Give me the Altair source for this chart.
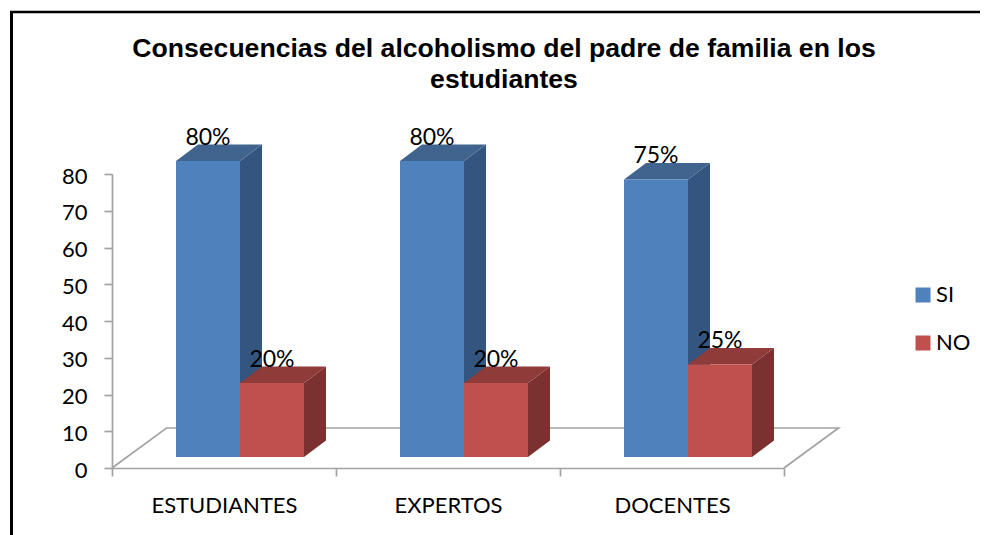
import altair as alt
import pandas as pd

categories = ["ESTUDIANTES", "EXPERTOS", "DOCENTES"]
si_values = [80, 80, 75]
no_values = [20, 20, 25]
series_names = ["SI", "NO"]
title_lines = ["Consecuencias del alcoholismo del padre de familia en los", "estudiantes"]
ticks_y = [0, 10, 20, 30, 40, 50, 60, 70, 80]

BLUE, BLUE_SIDE, BLUE_TOP = "#4F81BD", "#34557F", "#41648F"
RED, RED_SIDE, RED_TOP = "#C0504D", "#7B312F", "#8F3B39"
GRAY = "#A3A3A3"
SANS = "Lato"

W, H = 672, 294          # value axis: 80 at top, 0 at bottom
UNIT = 3.7               # pixels per value on the projected front plane
GAP = 2 / 7              # left gap and bar width, in category units
DEPTH_X = 22 / 224       # oblique depth of a bar
DEPTH_Y = 16.5 / UNIT
FLOOR_DX = 54.5 / 224    # oblique depth of the floor
FLOOR_DY = 40 / UNIT
P_LOW = -11 / UNIT
P_HIGH = 283 / UNIT

PX = alt.Scale(domain=[0, 3], nice=False, zero=False)
PY = alt.Scale(domain=[P_LOW, P_HIGH], nice=False, zero=False)

fronts, sides, tops, labels = [], [], [], []
for i, cat in enumerate(categories):
    for s, (name, val) in enumerate(zip(series_names, (si_values[i], no_values[i]))):
        x0 = i + GAP * (s + 1)
        x1 = x0 + GAP
        bid = f"{cat}-{name}"
        fronts.append(dict(series=name, x=x0, x2=x1, y=0, y2=val))
        sides += [
            dict(s=name, bar=bid, x=x1, y=0, y2=val),
            dict(s=name, bar=bid, x=x1 + DEPTH_X, y=DEPTH_Y, y2=val + DEPTH_Y),
        ]
        tops += [
            dict(s=name, bar=bid, x=x0, y=val, y2=val),
            dict(s=name, bar=bid, x=x0 + DEPTH_X, y=val, y2=val + DEPTH_Y),
            dict(s=name, bar=bid, x=x1, y=val, y2=val + DEPTH_Y),
            dict(s=name, bar=bid, x=x1 + DEPTH_X, y=val + DEPTH_Y, y2=val + DEPTH_Y),
        ]
        labels.append(dict(x=(x0 + x1) / 2, y=val + DEPTH_Y, text=f"{val}%"))

fronts, sides, tops, labels = map(pd.DataFrame, (fronts, sides, tops, labels))
floor = pd.DataFrame([
    dict(o=0, x=0, y=P_LOW),
    dict(o=1, x=FLOOR_DX, y=P_LOW + FLOOR_DY),
    dict(o=2, x=3 + FLOOR_DX, y=P_LOW + FLOOR_DY),
    dict(o=3, x=3, y=P_LOW),
])
axis_df = pd.DataFrame({"cat": categories, "v": si_values})

X = lambda f="x": alt.X(f"{f}:Q", scale=PX, axis=None)
Y = lambda f="y": alt.Y(f"{f}:Q", scale=PY, axis=None)

axes = alt.Chart(axis_df).mark_bar(opacity=0).encode(
    x=alt.X("cat:N", sort=categories, title=None,
            scale=alt.Scale(domain=categories, paddingInner=0, paddingOuter=0),
            axis=alt.Axis(labelAngle=0, tickBand="extent", tickSize=8, tickWidth=1.7, tickColor=GRAY,
                          domainColor=GRAY, domainWidth=1.7, labelFont=SANS, labelFontSize=22,
                          labelColor="black", labelPadding=19, grid=False)),
    y=alt.Y("v:Q", title=None, scale=alt.Scale(domain=[0, 80], nice=False),
            axis=alt.Axis(values=ticks_y, tickSize=8, tickWidth=1.7, tickColor=GRAY,
                          domainColor=GRAY, domainWidth=1.7, labelFont=SANS, labelFontSize=22,
                          labelColor="black", labelPadding=17, labelOffset=2, grid=False)),
)

frame_v = alt.Chart().mark_rule(color="black", strokeWidth=3).encode(
    x=alt.value(-100.5), y=alt.value(-163), y2=alt.value(361))
frame_h = alt.Chart().mark_rule(color="black", strokeWidth=2.5).encode(
    y=alt.value(-162), x=alt.value(-102), x2=alt.value(876))

floor_line = alt.Chart(floor).mark_line(color=GRAY, strokeWidth=1.7).encode(
    x=X(), y=Y(), order="o:Q")


def faces(df, name, color):
    return [
        alt.Chart(df[df.bar == b]).mark_area(color=color, opacity=1).encode(
            x=X(), y=Y(), y2=alt.Y2("y2:Q"))
        for b in df[df.s == name].bar.unique()
    ]


front = alt.Chart(fronts).mark_bar().encode(
    x=X(), x2=alt.X2("x2:Q"), y=Y(), y2=alt.Y2("y2:Q"),
    color=alt.Color("series:N", scale=alt.Scale(domain=series_names, range=[BLUE, RED]),
                    legend=alt.Legend(title=None, orient="none", legendX=800, legendY=110,
                                      symbolType="square", symbolSize=225, symbolStrokeWidth=0,
                                      labelFont=SANS, labelFontSize=22, labelColor="black",
                                      rowPadding=26, labelOffset=2, padding=0)),
)

text = alt.Chart(labels).mark_text(font=SANS, fontSize=23, color="black", baseline="alphabetic").encode(
    x=X(), y=Y(), text="text:N")

chart = alt.layer(
    axes, frame_v, frame_h, floor_line,
    *faces(sides, "SI", BLUE_SIDE), *faces(tops, "SI", BLUE_TOP),
    *faces(sides, "NO", RED_SIDE), *faces(tops, "NO", RED_TOP),
    front, text,
).resolve_scale(x="independent", y="independent").properties(
    width=W, height=H,
    title=alt.TitleParams(text=title_lines, font="Liberation Sans", fontSize=26.6, fontWeight="bold",
                          color="black", anchor="middle", dx=56, dy=84, lineHeight=31, offset=0),
    autosize=alt.AutoSizeParams(type="none"),
    padding={"left": 104, "top": 166, "right": 196, "bottom": 67},
    background="white",
).configure_view(stroke=None)

chart.save("out.html", embed_options={"renderer": "svg", "actions": False})
